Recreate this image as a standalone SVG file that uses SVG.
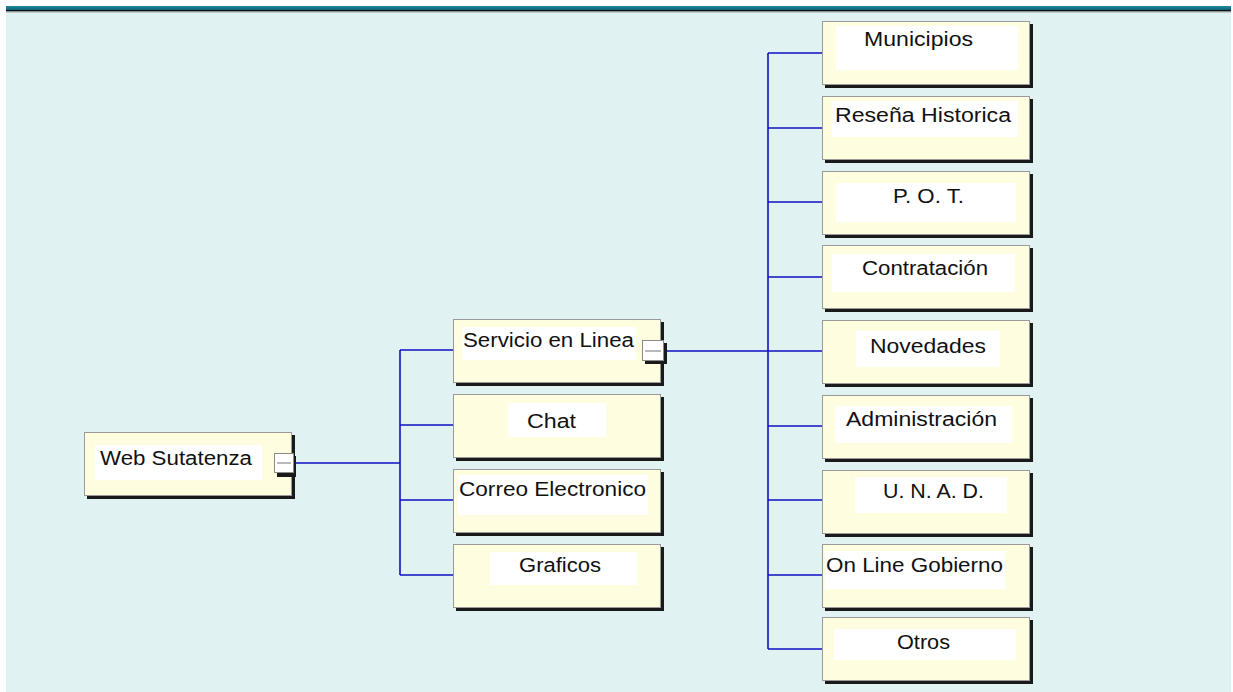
<svg xmlns="http://www.w3.org/2000/svg" width="1233" height="692" viewBox="0 0 1233 692">
<defs>
<linearGradient id="band" x1="0" y1="0" x2="0" y2="1">
<stop offset="0" stop-color="#1d8aa3"/>
<stop offset="1" stop-color="#0d5c70"/>
</linearGradient>
</defs>
<style>
.sh{fill:#1a1a1a}
.bx{fill:#fffde0;stroke:#9a9a9a;stroke-width:1}
.wt{fill:#ffffff}
.t{font-family:"Liberation Sans",Arial,sans-serif;font-size:20px;fill:#111111}
.c{text-anchor:middle}
.ln{stroke:#1010c4;stroke-width:1.6;fill:none}
.btn{fill:#ffffff;stroke:#8a8a8a;stroke-width:1}
.btl{stroke:#8a8a8a;stroke-width:1.2}
</style>
<rect x="0" y="0" width="1233" height="692" fill="#ffffff"/>
<rect x="6" y="6" width="1225" height="686" fill="#e0f2f2"/>
<rect x="6" y="6" width="1225" height="4.5" fill="url(#band)"/>
<rect x="6" y="10" width="1225" height="1.5" fill="#111111"/>
<rect x="6" y="11.5" width="1225" height="1" fill="#9aa8a8"/>

<g id="connectors">
<path class="ln" d="M295 463 H400 M400 350 V575 M400 350 H453 M400 425 H453 M400 500 H453 M400 575 H453"/>
<path class="ln" d="M667 351 H768 M768 53 V649 M768 53 H823 M768 128 H823 M768 202 H823 M768 277 H823 M768 351 H823 M768 426 H823 M768 500 H823 M768 575 H823 M768 649 H823"/>
</g>

<g id="web-sutatenza">
<rect class="sh" x="87" y="435" width="208" height="64"/>
<rect class="bx" x="84.5" y="432.5" width="207" height="63"/>
<rect class="wt" x="95" y="445" width="167" height="35"/>
<text class="t" x="100" y="465" textLength="152" lengthAdjust="spacingAndGlyphs">Web Sutatenza</text>
<rect class="sh" x="277" y="456" width="19" height="21"/>
<rect class="btn" x="274.5" y="453.5" width="19" height="19"/>
<line class="btl" x1="277" y1="463" x2="291" y2="463"/>
</g>

<g id="servicio-en-linea">
<rect class="sh" x="456" y="322" width="208" height="64"/>
<rect class="bx" x="453.5" y="319.5" width="207" height="63"/>
<rect class="wt" x="462" y="327" width="174" height="33"/>
<text class="t" x="463" y="347" textLength="171" lengthAdjust="spacingAndGlyphs">Servicio en Linea</text>
<rect class="sh" x="645" y="343" width="22" height="21"/>
<rect class="btn" x="642.5" y="340.5" width="21" height="20"/>
<line class="btl" x1="645" y1="351" x2="661" y2="351"/>
</g>

<g id="chat">
<rect class="sh" x="456" y="397" width="208" height="64"/>
<rect class="bx" x="453.5" y="394.5" width="207" height="63"/>
<rect class="wt" x="508" y="403" width="98" height="34"/>
<text class="t c" x="551.5" y="428" textLength="49" lengthAdjust="spacingAndGlyphs">Chat</text>
</g>

<g id="correo-electronico">
<rect class="sh" x="456" y="472" width="208" height="64"/>
<rect class="bx" x="453.5" y="469.5" width="207" height="63"/>
<rect class="wt" x="458" y="475" width="190" height="40"/>
<text class="t" x="459" y="496" textLength="187" lengthAdjust="spacingAndGlyphs">Correo Electronico</text>
</g>

<g id="graficos">
<rect class="sh" x="456" y="547" width="208" height="64"/>
<rect class="bx" x="453.5" y="544.5" width="207" height="63"/>
<rect class="wt" x="490" y="552" width="147" height="33"/>
<text class="t c" x="560" y="572" textLength="82" lengthAdjust="spacingAndGlyphs">Graficos</text>
</g>

<g id="municipios">
<rect class="sh" x="825" y="24" width="208" height="64"/>
<rect class="bx" x="822.5" y="21.5" width="207" height="63"/>
<rect class="wt" x="836" y="26" width="182" height="44"/>
<text class="t c" x="918.5" y="46" textLength="109" lengthAdjust="spacingAndGlyphs">Municipios</text>
</g>

<g id="resena-historica">
<rect class="sh" x="825" y="99" width="208" height="64"/>
<rect class="bx" x="822.5" y="96.5" width="207" height="63"/>
<rect class="wt" x="832" y="101" width="186" height="36"/>
<text class="t" x="835" y="122" textLength="176" lengthAdjust="spacingAndGlyphs">Reseña Historica</text>
</g>

<g id="pot">
<rect class="sh" x="825" y="174" width="208" height="64"/>
<rect class="bx" x="822.5" y="171.5" width="207" height="63"/>
<rect class="wt" x="836" y="183" width="180" height="39"/>
<text class="t c" x="928.5" y="203" textLength="71" lengthAdjust="spacingAndGlyphs">P. O. T.</text>
</g>

<g id="contratacion">
<rect class="sh" x="825" y="248" width="208" height="64"/>
<rect class="bx" x="822.5" y="245.5" width="207" height="63"/>
<rect class="wt" x="832" y="254" width="183" height="38"/>
<text class="t c" x="925" y="275" textLength="126" lengthAdjust="spacingAndGlyphs">Contratación</text>
</g>

<g id="novedades">
<rect class="sh" x="825" y="323" width="208" height="64"/>
<rect class="bx" x="822.5" y="320.5" width="207" height="63"/>
<rect class="wt" x="856" y="331" width="144" height="36"/>
<text class="t c" x="928" y="353" textLength="116" lengthAdjust="spacingAndGlyphs">Novedades</text>
</g>

<g id="administracion">
<rect class="sh" x="825" y="398" width="208" height="64"/>
<rect class="bx" x="822.5" y="395.5" width="207" height="63"/>
<rect class="wt" x="835" y="406" width="177" height="37"/>
<text class="t" x="846" y="426" textLength="151" lengthAdjust="spacingAndGlyphs">Administración</text>
</g>

<g id="unad">
<rect class="sh" x="825" y="473" width="208" height="64"/>
<rect class="bx" x="822.5" y="470.5" width="207" height="63"/>
<rect class="wt" x="855" y="477" width="152" height="36"/>
<text class="t c" x="933.5" y="498" textLength="101" lengthAdjust="spacingAndGlyphs">U. N. A. D.</text>
</g>

<g id="on-line-gobierno">
<rect class="sh" x="825" y="547" width="208" height="64"/>
<rect class="bx" x="822.5" y="544.5" width="207" height="63"/>
<rect class="wt" x="825" y="551" width="180" height="38"/>
<text class="t" x="826" y="572" textLength="177" lengthAdjust="spacingAndGlyphs">On Line Gobierno</text>
</g>

<g id="otros">
<rect class="sh" x="825" y="620" width="208" height="64"/>
<rect class="bx" x="822.5" y="617.5" width="207" height="63"/>
<rect class="wt" x="834" y="629" width="182" height="31"/>
<text class="t c" x="923.5" y="649" textLength="53" lengthAdjust="spacingAndGlyphs">Otros</text>
</g>
</svg>
